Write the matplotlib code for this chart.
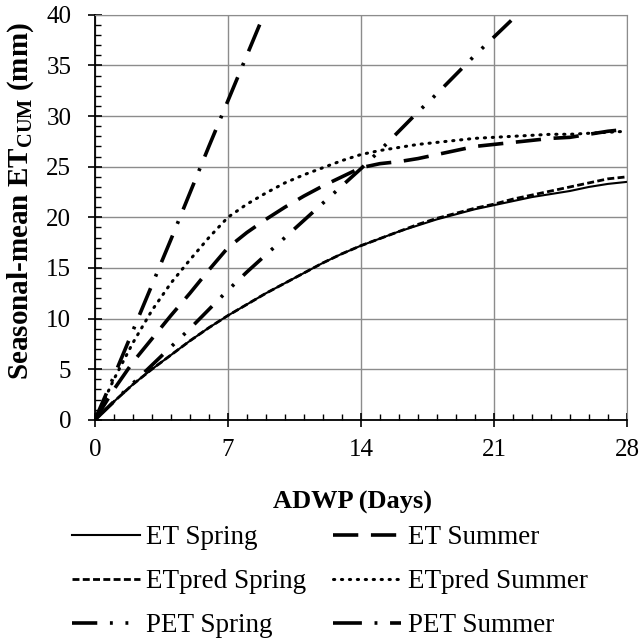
import numpy as np
import matplotlib
matplotlib.use("Agg")
import matplotlib.pyplot as plt
from matplotlib.ticker import MultipleLocator

plt.rcParams['font.family'] = ['Liberation Serif', 'DejaVu Serif']
plt.rcParams['mathtext.fontset'] = 'custom'
plt.rcParams['mathtext.rm'] = 'Liberation Serif'
plt.rcParams['mathtext.bf'] = 'Liberation Serif:bold'

# days since last rain (ADWP)
days = list(range(0, 29))

et_spring = [0, 1.8, 3.5, 5.0, 6.4, 7.8, 9.1, 10.3, 11.4, 12.5, 13.5, 14.5, 15.5, 16.4,
             17.2, 17.9, 18.6, 19.2, 19.8, 20.3, 20.8, 21.2, 21.6, 22.0, 22.3, 22.6, 23.0, 23.3, 23.5]
etpred_spring = [0, 1.8, 3.5, 5.0, 6.4, 7.8, 9.1, 10.3, 11.4, 12.5, 13.5, 14.5, 15.5, 16.4,
                 17.2, 17.9, 18.6, 19.3, 19.9, 20.4, 20.9, 21.3, 21.8, 22.2, 22.6, 23.0, 23.4, 23.8, 24.0]
et_summer = [0, 3.0, 5.7, 8.0, 10.3, 12.5, 14.8, 17.0, 18.5, 19.8, 21.0, 22.1, 23.1, 24.0,
             24.9, 25.3, 25.5, 25.8, 26.2, 26.6, 27.0, 27.2, 27.4, 27.6, 27.8, 27.9, 28.2, 28.5, 28.7]
etpred_summer = [0, 4.0, 7.6, 10.8, 13.5, 15.8, 18.0, 20.0, 21.3, 22.4, 23.4, 24.2, 24.9, 25.6,
                 26.2, 26.6, 26.9, 27.2, 27.4, 27.6, 27.8, 27.9, 28.0, 28.1, 28.2, 28.2, 28.3, 28.4, 28.5]
pet_spring = [0, 1.8, 3.6, 5.4, 7.2, 9.0, 10.9, 12.8, 14.6, 16.3, 18.0, 19.7, 21.4, 23.1,
              24.8, 26.6, 28.5, 30.4, 32.2, 34.1, 36.0, 37.8, 39.6, 41.4, 43.2, 45.0, 46.8, 48.6, 50.4]
pet_summer = [0, 4.3, 8.8, 13.3, 17.8, 22.4, 27.0, 31.5, 36.0, 40.5, 45.0]
pet_summer_days = days[:len(pet_summer)]

fig = plt.figure(figsize=(6.41, 6.43), dpi=100)
ax = fig.add_axes([0.148, 0.347, 0.830, 0.630])

l1, = ax.plot(days, et_spring, color='black', lw=1.5, label='ET Spring')
l2, = ax.plot(days, et_summer, color='black', lw=2.6, dashes=(7, 3.5), label='ET Summer')
l3, = ax.plot(days, etpred_spring, color='black', lw=2.0, dashes=(2.5, 1.2), label='ETpred Spring')
l4, = ax.plot(days, etpred_summer, color='black', lw=2.2, dashes=(0.4, 2.2), label='ETpred Summer',
              dash_capstyle='round')
l5, = ax.plot(days, pet_spring, color='black', lw=2.6, dashes=(7, 3.5, 0.8, 3.5, 0.8, 3.5), label='PET Spring')
l6, = ax.plot(pet_summer_days, pet_summer, color='black', lw=2.6, dashes=(8, 3.5, 0.8, 3.5), label='PET Summer')

ax.set_xlim(0, 28)
ax.set_ylim(0, 40)
ax.xaxis.set_major_locator(MultipleLocator(7))
ax.xaxis.set_minor_locator(MultipleLocator(1))
ax.yaxis.set_major_locator(MultipleLocator(5))
ax.yaxis.set_minor_locator(MultipleLocator(1))
ax.grid(True, which='major', color='#8c8c8c', lw=1.0)
ax.set_axisbelow(True)
ax.tick_params(which='major', direction='inout', length=10, width=1.2, labelsize=18)
ax.tick_params(axis='y', which='major', pad=12)
ax.tick_params(axis='x', which='major', pad=9)
ax.tick_params(which='minor', direction='in', length=4.5, width=1.0)
for s in ['top', 'right']:
    ax.spines[s].set_color('#8c8c8c')
for s in ['left', 'bottom']:
    ax.spines[s].set_linewidth(1.3)

ax.set_xlabel('ADWP (Days)', fontsize=19, fontweight='bold')
ax.xaxis.set_label_coords(0.484, -0.175)
ax.set_ylabel(r'Seasonal-mean ET$_{\mathbf{CUM}}$ (mm)', fontsize=21, fontweight='bold')
ax.yaxis.set_label_coords(-0.11, 0.54)

# column-major fill, so spring in the left column
handles = [l1, l3, l5, l2, l4, l6]
fig.legend(handles, [h.get_label() for h in handles], loc='upper left',
           bbox_to_anchor=(0.074, 0.221), ncol=2, frameon=False, fontsize=19.5,
           handlelength=2.5, handletextpad=0.25, columnspacing=1.0, labelspacing=0.7)

fig.savefig('out.png', dpi=100)
